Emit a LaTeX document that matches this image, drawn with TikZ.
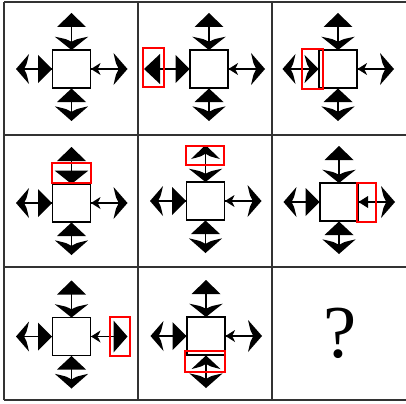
\documentclass[tikz,border=0pt]{standalone}
\usepackage{fontspec}
\setmainfont{Liberation Serif}
\newcommand\headA[5]{%
  \ifx#1t\fill[shift={(#2)},rotate=#3] (0,0) -- (-#4,#5) -- (-#4,-#5) -- cycle;%
  \else\ifx#1s\fill[shift={(#2)},rotate=#3] (0,0) -- (-#4,#5) .. controls ({-0.8*#4},{0.25*#5}) .. ({-0.62*#4},0) .. controls ({-0.8*#4},{-0.25*#5}) .. (-#4,-#5) -- cycle;%
  \fi\fi}
\newcommand\puzfig[8]{%
  \draw[shaft] (0,-50) -- (0,-19);
  \draw[shaft] (0,19) -- (0,46);
  \draw[shaft] (-50,0) -- (-19,0);
  \draw[shaft] (19,0) -- (50,0);
  \draw[sq] (-19,-19) rectangle (19,19);
  \headA{#1}{0,-56}{90}{14}{14.5}
  \headA{#2}{0,-19}{-90}{13.3}{16.7}
  \headA{#3}{0,19.5}{90}{13.5}{14.5}
  \headA{#4}{0,52}{-90}{14.7}{16.7}
  \headA{#5}{-55.5,0}{180}{13}{15}
  \headA{#6}{-19.5,0}{0}{14}{14}
  \headA{#7}{19.5,0}{180}{9.5}{6}
  \headA{#8}{56,0}{0}{14}{16}
}
\begin{document}
\begin{tikzpicture}[x=0.75pt,y=-0.75pt,
  grid/.style={line width=1.5pt, draw=black!80},
  shaft/.style={line width=0.9pt},
  sq/.style={line width=1.1pt, draw=black, fill=white},
  hl/.style={draw=red, line width=0.8pt}]
\path[use as bounding box] (0,0) rectangle (406,403);
\fill[white] (0,0) rectangle (406,403);
% grid
\draw[grid] (4,2) -- (406,2);
\draw[grid] (4,135) -- (406,135);
\draw[grid] (4,267) -- (406,267);
\draw[grid] (4,400) -- (406,400);
\draw[grid] (4,2) -- (4,400);
\draw[grid] (138,2) -- (138,400);
\draw[grid] (272,2) -- (272,400);
% cell 1
\begin{scope}[shift={(71.5,69)}]\puzfig{t}{s}{t}{s}{s}{t}{s}{s}\end{scope}
% cell 2
\begin{scope}[shift={(209,69)}]
  \draw[shaft] (-60,0) -- (-50,0);
  \puzfig{t}{s}{t}{s}{n}{t}{s}{s}
  \fill (-65,0) -- (-49,-15) -- (-49,15) -- cycle;
\end{scope}
\draw[hl] (143,48) rectangle (164,87);
% cell 3
\begin{scope}[shift={(338,69)}]\puzfig{t}{s}{t}{s}{s}{s}{s}{s}\end{scope}
\draw[hl] (302,49) rectangle (323,89);
% cell 4
\begin{scope}[shift={(71.5,203)}]\puzfig{t}{t}{t}{s}{s}{t}{s}{s}\end{scope}
\draw[hl] (52,163) rectangle (91,183);
% cell 5
\begin{scope}[shift={(205.5,201)}]\puzfig{s}{s}{t}{s}{s}{t}{s}{s}\end{scope}
\draw[hl] (186,146) rectangle (224,165);
% cell 6
\begin{scope}[shift={(339,202)}]\puzfig{t}{s}{t}{s}{s}{t}{t}{s}\end{scope}
\draw[hl] (357,183) rectangle (376,222);
% cell 7
\begin{scope}[shift={(71.5,336.5)}]\puzfig{t}{s}{t}{s}{s}{t}{s}{t}\end{scope}
\draw[hl] (110,317) rectangle (130,356);
% cell 8
\begin{scope}[shift={(206,336)}]\puzfig{t}{s}{s}{s}{s}{t}{s}{s}\end{scope}
\draw[hl] (185,351) rectangle (225,372);
% cell 9
\node[inner sep=0pt, font=\fontsize{56}{60}\selectfont] (q) at (340,333) {?};
\end{tikzpicture}
\end{document}
